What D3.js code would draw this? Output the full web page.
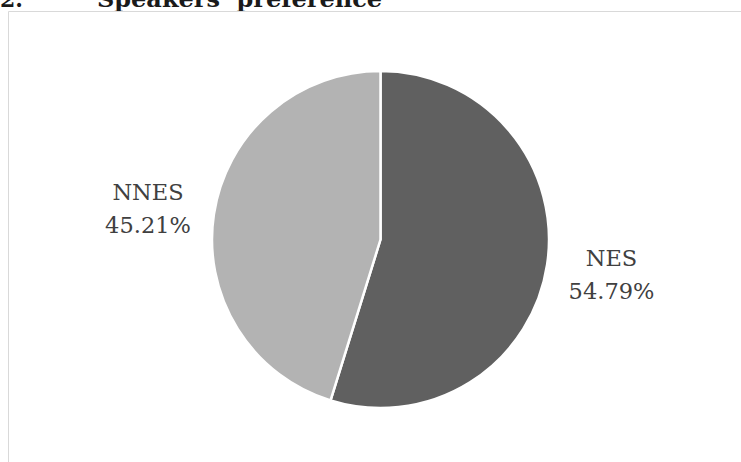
<!DOCTYPE html>
<html>
<head>
<meta charset="utf-8">
<script src="https://cdn.jsdelivr.net/npm/d3@7"></script>
<style>
  html, body { margin: 0; padding: 0; background: #fff; }
  svg { display: block; }
</style>
</head>
<body>
<svg id="chart" width="741" height="462"></svg>
<script>
// Speakers' preference: share of respondents
const categories = ["NES", "NNES"];
const shares = [54.79, 45.21];
const sliceColors = ["#606060", "#b3b3b3"];

const W = 741, H = 462;
const svg = d3.select("#chart");

// Section heading (runs off the top of the page)
svg.append("text")
  .attr("x", 0).attr("y", 7)
  .attr("font-family", "DejaVu Serif")
  .attr("font-weight", "bold")
  .attr("font-size", 22)
  .attr("fill", "#1a1a1a")
  .text("2.");
svg.append("text")
  .attr("x", 97).attr("y", 7)
  .attr("font-family", "DejaVu Serif")
  .attr("font-weight", "bold")
  .attr("font-size", 22)
  .attr("fill", "#1a1a1a")
  .attr("textLength", 285)
  .attr("lengthAdjust", "spacingAndGlyphs")
  .text("Speakers\u2019 preference");

// Chart frame (top and left edges)
svg.append("path")
  .attr("d", `M8.5,${H} V11.5 H${W}`)
  .attr("fill", "none")
  .attr("stroke", "#d9d9d9")
  .attr("stroke-width", 1);

const cx = 380.5, cy = 239.5, r = 168.5;

const pie = d3.pie().sort(null).value(d => d.v);
const data = categories.map((c, i) => ({ c, v: shares[i] }));
const arcs = pie(data);
const arc = d3.arc().innerRadius(0).outerRadius(r);
const color = d3.scaleOrdinal().domain(categories).range(sliceColors);

const g = svg.append("g").attr("transform", `translate(${cx},${cy})`);
g.selectAll("path.slice")
  .data(arcs)
  .join("path")
  .attr("class", "slice")
  .attr("d", arc)
  .attr("fill", d => color(d.data.c))
  .attr("stroke", "#ffffff")
  .attr("stroke-width", 2.5)
  .attr("stroke-linejoin", "round");

// Outside labels: category name over percentage
const labelPos = { NES: [611.5, 266], NNES: [148, 200] };
const labels = svg.selectAll("text.lbl")
  .data(arcs)
  .join("text")
  .attr("class", "lbl")
  .attr("text-anchor", "middle")
  .attr("font-family", "DejaVu Serif")
  .attr("font-size", 22.5)
  .attr("fill", "#404040");
labels.append("tspan")
  .attr("x", d => labelPos[d.data.c][0])
  .attr("y", d => labelPos[d.data.c][1])
  .text(d => d.data.c);
labels.append("tspan")
  .attr("x", d => labelPos[d.data.c][0])
  .attr("y", d => labelPos[d.data.c][1] + 33)
  .text(d => d3.format(".2f")(d.data.v) + "%");
</script>
</body>
</html>
